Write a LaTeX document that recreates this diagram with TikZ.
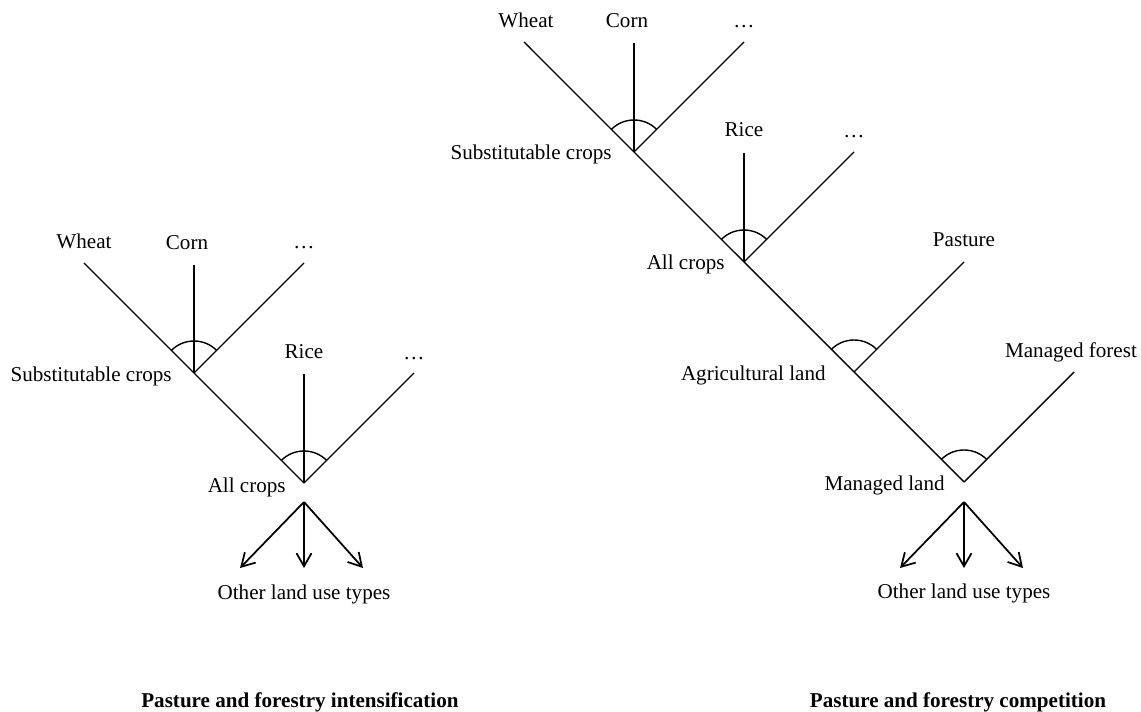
\documentclass[tikz,border=0pt]{standalone}
\usepackage{fontspec}
\setmainfont{Liberation Serif}
\usetikzlibrary{arrows.meta,calc,positioning}

\begin{document}
\begin{tikzpicture}[
    font=\fontsize{12}{14}\selectfont,
    >={Straight Barb[length=2.6mm, width=3mm]},
]

\tikzset{
    tree_line/.style = {line width=0.8pt},
    nest_arc/.style = {line width=0.8pt},
    leaf_label/.style = {anchor=base, inner sep=0pt},
    nest_label/.style = {anchor=base east, inner sep=0pt},
    arrow/.style = {line width=1pt, ->},
    title_label/.style = {anchor=base, inner sep=0pt, font=\fontsize{12}{14}\selectfont\bfseries}
}

\useasboundingbox (0,0) rectangle (22.82,14.22);

% =========== PASTURE AND FORESTRY INTENSIFICATION ===========
\coordinate (subL) at (3.88, 6.76);
\coordinate (allL) at (6.08, 4.56);

\coordinate (wheatL_top) at (1.68, 8.96);
\coordinate (cornL_top) at (3.88, 8.92);
\coordinate (dotsL_top) at (6.08, 8.96);
\coordinate (riceL_top) at (6.08, 6.74);
\coordinate (moreL_top) at (8.28, 6.76);

\node[leaf_label] (wheatL) at ($(wheatL_top)+(0,0.28)$) {Wheat};
\node[leaf_label] (cornL) at ($(cornL_top)+(-0.14,0.30)$) {Corn};
\node[leaf_label] (dotsL) at ($(dotsL_top)+(0,0.28)$) {\dots};
\node[leaf_label] (riceL) at ($(riceL_top)+(0,0.30)$) {Rice};
\node[leaf_label] (moreL) at ($(moreL_top)+(0,0.28)$) {\dots};

\node[nest_label] (subL_text) at ($(subL)+(-0.44,-0.18)$) {Substitutable crops};
\node[nest_label] (allL_text) at ($(allL)+(-0.36,-0.18)$) {All crops};

% Lines for intensification tree
\draw[tree_line] (wheatL_top) -- (subL);
\draw[tree_line] (cornL_top) -- (subL);
\draw[tree_line] (dotsL_top) -- (subL);
\draw[tree_line] (subL) -- (allL);
\draw[tree_line] (riceL_top) -- (allL);
\draw[tree_line] (moreL_top) -- (allL);

\draw[nest_arc] ([shift={(135:0.64)}]subL) arc[start angle=135, end angle=45, radius=0.64];
\draw[nest_arc] ([shift={(135:0.64)}]allL) arc[start angle=135, end angle=45, radius=0.64];

% Arrows to other land use types
\coordinate (outL) at ($(allL)+(0,-0.38)$);
\coordinate (outL_1) at ($(allL)+(-1.28,-1.70)$);
\coordinate (outL_2) at ($(allL)+(0,-1.70)$);
\coordinate (outL_3) at ($(allL)+(1.18,-1.70)$);

\draw[arrow] (outL) -- (outL_1);
\draw[arrow] (outL) -- (outL_2);
\draw[arrow] (outL) -- (outL_3);

\node[leaf_label] (otherL) at (6.08, 2.24) {Other land use types};

\node[title_label] (titleL) at (6.00, 0.08) {Pasture and forestry intensification};

% =========== PASTURE AND FORESTRY COMPETITION ===========
\coordinate (subR) at (12.68, 11.18);
\coordinate (allR) at (14.88, 8.98);
\coordinate (agriR) at (17.08, 6.78);
\coordinate (mngR) at (19.28, 4.58);

\coordinate (wheatR_top) at (10.48, 13.38);
\coordinate (cornR_top) at (12.68, 13.36);
\coordinate (dotsR_top) at (14.88, 13.38);
\coordinate (riceR_top) at (14.88, 11.16);
\coordinate (moreR_top) at (17.08, 11.18);
\coordinate (pastureR_top) at (19.28, 8.98);
\coordinate (forestR_top) at (21.48, 6.78);

\node[leaf_label] (wheatR) at ($(wheatR_top)+(0.04,0.28)$) {Wheat};
\node[leaf_label] (cornR) at ($(cornR_top)+(-0.14,0.30)$) {Corn};
\node[leaf_label] (dotsR) at ($(dotsR_top)+(0,0.28)$) {\dots};
\node[leaf_label] (riceR) at ($(riceR_top)+(0,0.32)$) {Rice};
\node[leaf_label] (moreR) at ($(moreR_top)+(0,0.28)$) {\dots};
\node[leaf_label] (pastureR) at ($(pastureR_top)+(0,0.30)$) {Pasture};
\node[leaf_label] (forestR) at ($(forestR_top)+(-0.06,0.30)$) {Managed forest};

\node[nest_label] (subR_text) at ($(subR)+(-0.44,-0.16)$) {Substitutable crops};
\node[nest_label] (allR_text) at ($(allR)+(-0.38,-0.16)$) {All crops};
\node[nest_label] (agriR_text) at ($(agriR)+(-0.56,-0.18)$) {Agricultural land};
\node[nest_label] (mngR_text) at ($(mngR)+(-0.38,-0.16)$) {Managed land};

% Lines for competition tree
\draw[tree_line] (wheatR_top) -- (subR);
\draw[tree_line] (cornR_top) -- (subR);
\draw[tree_line] (dotsR_top) -- (subR);
\draw[tree_line] (subR) -- (allR);
\draw[tree_line] (riceR_top) -- (allR);
\draw[tree_line] (moreR_top) -- (allR);
\draw[tree_line] (allR) -- (agriR);
\draw[tree_line] (pastureR_top) -- (agriR);
\draw[tree_line] (agriR) -- (mngR);
\draw[tree_line] (forestR_top) -- (mngR);

\draw[nest_arc] ([shift={(135:0.64)}]subR) arc[start angle=135, end angle=45, radius=0.64];
\draw[nest_arc] ([shift={(135:0.64)}]allR) arc[start angle=135, end angle=45, radius=0.64];
\draw[nest_arc] ([shift={(135:0.64)}]agriR) arc[start angle=135, end angle=45, radius=0.64];
\draw[nest_arc] ([shift={(135:0.64)}]mngR) arc[start angle=135, end angle=45, radius=0.64];

% Arrows to other land use types
\coordinate (outR) at ($(mngR)+(0,-0.40)$);
\coordinate (outR_1) at ($(mngR)+(-1.28,-1.72)$);
\coordinate (outR_2) at ($(mngR)+(0,-1.72)$);
\coordinate (outR_3) at ($(mngR)+(1.18,-1.72)$);

\draw[arrow] (outR) -- (outR_1);
\draw[arrow] (outR) -- (outR_2);
\draw[arrow] (outR) -- (outR_3);

\node[leaf_label] (otherR) at (19.28, 2.26) {Other land use types};

\node[title_label] (titleR) at (19.16, 0.08) {Pasture and forestry competition};

\end{tikzpicture}
\end{document}
